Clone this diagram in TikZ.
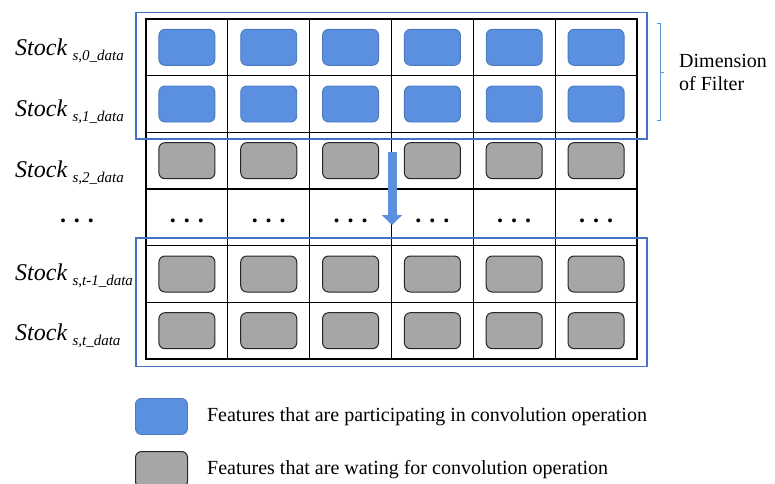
\documentclass[tikz,border=0pt]{standalone}
\usepackage{fontspec}
\setmainfont{Liberation Serif}
\usetikzlibrary{positioning, arrows.meta, fit}
\definecolor{featblue}{RGB}{91,143,224}
\definecolor{featgray}{RGB}{166,166,166}
\definecolor{frameblue}{RGB}{68,114,196}
\definecolor{bracketblue}{RGB}{91,155,213}
\newcommand{\stocklabel}[1]{\textit{Stock}\hspace{5pt}\raisebox{-5pt}{\fontsize{15}{15}\selectfont\itshape #1}}

\begin{document}
\begin{tikzpicture}[
        x=1pt, y=-1pt,
        cell/.style={rectangle, draw=black, line width=1.2pt, minimum width=81.83pt, minimum height=56.67pt, inner sep=0pt, outer sep=0pt},
        active/.style={rectangle, rounded corners=6pt, draw=featblue!85!black, fill=featblue, line width=0.9pt, minimum width=56pt, minimum height=36pt, inner sep=0pt},
        waiting/.style={rectangle, rounded corners=6pt, draw=black!85, fill=featgray, line width=1pt, minimum width=56pt, minimum height=36pt, inner sep=0pt},
        frame/.style={rectangle, draw=frameblue, line width=1.5pt, inner xsep=10pt},
        rowlabel/.style={anchor=base west, inner sep=0pt, font=\fontsize{24}{28}\selectfont},
        dotstext/.style={inner sep=0pt, font=\fontsize{24}{28}\selectfont\bfseries},
        legendtext/.style={anchor=west, inner sep=0pt, font=\fontsize{20}{24}\selectfont},
        slide/.style={-{Triangle[width=20pt, length=10pt]}, line width=9pt, draw=featblue}
    ]

    \useasboundingbox (0,0) rectangle (775,483);

    % Grid of cells
    \foreach \r in {0,...,5}
        \foreach \c in {0,...,5}
            \node[cell] (cell-\r-\c) at ({146+81.83*(\c+0.5)}, {19+56.67*(\r+0.5)}) {};

    % Features
    \foreach \r/\kind in {0/active, 1/active, 2/waiting, 4/waiting, 5/waiting}
        \foreach \c in {0,...,5}
            \node[\kind] (feat-\r-\c) at (cell-\r-\c) {};
    \foreach \c in {0,...,5}
        \node[dotstext, yshift=-4pt] (dots-\c) at (cell-3-\c) {. . .};

    % Row labels
    \node[rowlabel] (label-0) at (15,55) {\stocklabel{s,0\_data}};
    \node[rowlabel] (label-1) at (15,116) {\stocklabel{s,1\_data}};
    \node[rowlabel] (label-2) at (15,177) {\stocklabel{s,2\_data}};
    \node[dotstext] (label-3) at (77,221) {. . .};
    \node[rowlabel] (label-4) at (15,280) {\stocklabel{s,t-1\_data}};
    \node[rowlabel] (label-5) at (15,340) {\stocklabel{s,t\_data}};

    % Filter windows
    \node[frame, inner ysep=6.5pt, fit=(cell-0-0)(cell-1-5)] (filter-top) {};
    \node[frame, inner ysep=7.5pt, fit=(cell-4-0)(cell-5-5)] (filter-bottom) {};

    % Sliding arrow
    \coordinate (slide-start) at (392,152);
    \coordinate (slide-end) at (392,225);
    \draw[slide] (slide-start) -- (slide-end);

    % Dimension bracket
    \draw[bracketblue, line width=1pt] (657,23) -- (660,23) -- (660,120) -- (657,120);
    \draw[bracketblue, line width=1pt] (660,72) -- (664,72);
    \node[legendtext, anchor=base west] (dim-1) at (679,67) {Dimension};
    \node[legendtext, anchor=base west] (dim-2) at (679,90) {of Filter};

    % Legend
    \node[active, anchor=north west, minimum width=52pt] (legend-active) at (135,398) {};
    \node[waiting, anchor=north west, minimum width=52pt] (legend-waiting) at (135,451) {};
    \node[legendtext, right=19pt of legend-active] (text-active) {Features that are participating in convolution operation};
    \node[legendtext, right=19pt of legend-waiting] (text-waiting) {Features that are wating for convolution operation};

\end{tikzpicture}
\end{document}
